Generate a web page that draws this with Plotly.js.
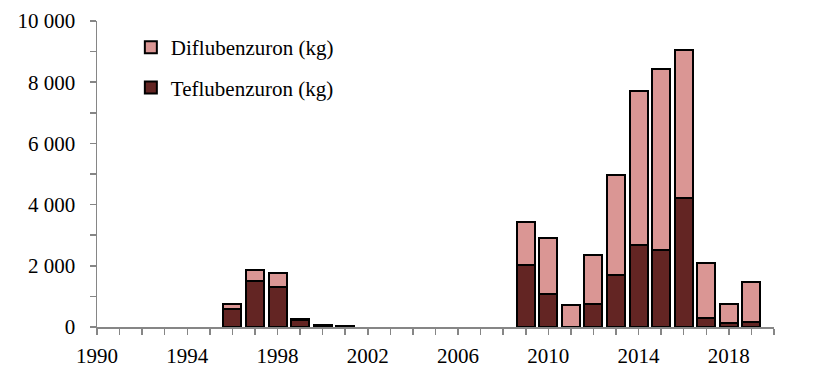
<!DOCTYPE html>
<html>
<head>
<meta charset="utf-8">
<script src="https://cdn.plot.ly/plotly-3.0.1.min.js"></script>
<style>html,body{margin:0;padding:0;background:#fff;}#chart{width:814px;height:388px;}</style>
</head>
<body>
<div id="chart"></div>
<script>
const years = [1996,1997,1998,1999,2000,2001,2009,2010,2011,2012,2013,2014,2015,2016,2017,2018,2019];
const teflubenzuron = [590,1500,1320,220,60,40,2030,1080,0,750,1700,2680,2530,4220,300,120,170];
const diflubenzuron = [170,370,460,50,0,0,1410,1840,720,1600,3270,5040,5900,4830,1790,630,1300];
const xTickVals = [1990,1991,1992,1993,1994,1995,1996,1997,1998,1999,2000,2001,2002,2003,2004,2005,2006,2007,2008,2009,2010,2011,2012,2013,2014,2015,2016,2017,2018,2019,2020];
const xTickText = ["1990","","","","1994","","","","1998","","","","2002","","","","2006","","","","2010","","","","2014","","","","2018","",""];
const yTickVals = [0,1000,2000,3000,4000,5000,6000,7000,8000,9000,10000];
const yTickText = ["0","","2 000","","4 000","","6 000","","8 000","","10 000"];

const font = {family: 'Liberation Serif, Times New Roman, serif', size: 21, color: '#000'};
const traces = [
  {type:'bar', x: years, y: teflubenzuron, name:'Teflubenzuron (kg)', width:0.8, legendgroup:'t', legendrank:2,
   marker:{color:'#632523', line:{color:'#000', width:2}}},
  {type:'bar', x: years, y: diflubenzuron, name:'Diflubenzuron (kg)', width:0.8, legendgroup:'d', legendrank:1,
   marker:{color:'#DA9694', line:{color:'#000', width:2}}}
];
const layout = {
  width:814, height:388,
  margin:{l:97, r:40, t:21, b:61, pad:0},
  paper_bgcolor:'#fff', plot_bgcolor:'#fff',
  font: font,
  barmode:'stack',
  showlegend:true,
  legend:{x:0.05, y:0.98, xanchor:'left', yanchor:'top', traceorder:'grouped', tracegroupgap:10,
          font:font, bgcolor:'rgba(0,0,0,0)'},
  xaxis:{range:[1990,2020], tickmode:'array', tickvals:xTickVals, ticktext:xTickText,
         showgrid:false, zeroline:false, showline:true, linecolor:'#868686', linewidth:1.5,
         ticks:'outside', ticklen:6, tickcolor:'#868686', tickwidth:1.5, tickfont:font, ticklabelstandoff:3},
  yaxis:{range:[0,10000], tickmode:'array', tickvals:yTickVals, ticktext:yTickText,
         showgrid:false, zeroline:false, showline:true, linecolor:'#868686', linewidth:1.5,
         ticks:'outside', ticklen:6, tickcolor:'#868686', tickwidth:1.5, tickfont:font, ticklabelstandoff:10}
};
Plotly.newPlot('chart', traces, layout, {staticPlot:true, displayModeBar:false});
</script>
</body>
</html>
